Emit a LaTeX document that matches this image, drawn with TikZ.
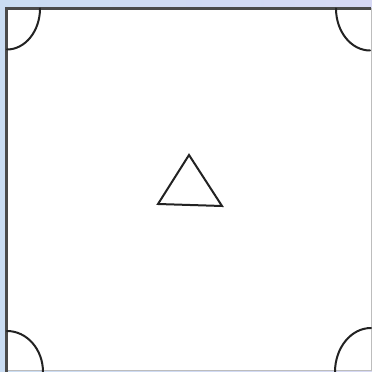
\documentclass[tikz,border=0pt]{standalone}
\definecolor{bgblue}{HTML}{CADDF3}
\definecolor{bglav}{HTML}{D6D8F4}
\definecolor{darkedge}{HTML}{4A4A4A}
\definecolor{lightedge}{HTML}{BDBDBD}
\definecolor{ink}{HTML}{222222}
\tikzset{
  curve/.style={draw=ink, line width=2pt, line cap=round},
  tri/.style={draw=ink, line width=2pt, line join=miter},
}
\begin{document}
\begin{tikzpicture}[x=1pt,y=1pt]
  % background
  \shade[left color=bgblue, right color=bglav] (0,0) rectangle (372,372);
  \useasboundingbox (0,0) rectangle (372,372);
  % white square
  \fill[white] (6.5,1) rectangle (371,363.5);
  \draw[lightedge, line width=1pt] (371,363.5) -- (371,1) -- (6.5,1);
  \draw[darkedge, line width=2.5pt] (6.5,0) -- (6.5,363.5) -- (371,363.5);
  % corner arcs
  \coordinate (tl) at (40,363.5);
  \coordinate (tr) at (336,363.5);
  \coordinate (bl) at (7,41);
  \coordinate (br) at (371,44);
  \draw[curve] (tl) arc[start angle=0, end angle=-90, x radius=33, y radius=41];
  \draw[curve] (tr) arc[start angle=180, end angle=270, x radius=34, y radius=42];
  \draw[curve] (bl) arc[start angle=90, end angle=0, x radius=36, y radius=41];
  \draw[curve] (br) arc[start angle=90, end angle=180, x radius=36, y radius=44];
  % triangle
  \coordinate (apex) at (189,217);
  \coordinate (left) at (158,168);
  \coordinate (right) at (222,166);
  \draw[tri] (apex) -- (left) -- (right) -- cycle;
\end{tikzpicture}
\end{document}
